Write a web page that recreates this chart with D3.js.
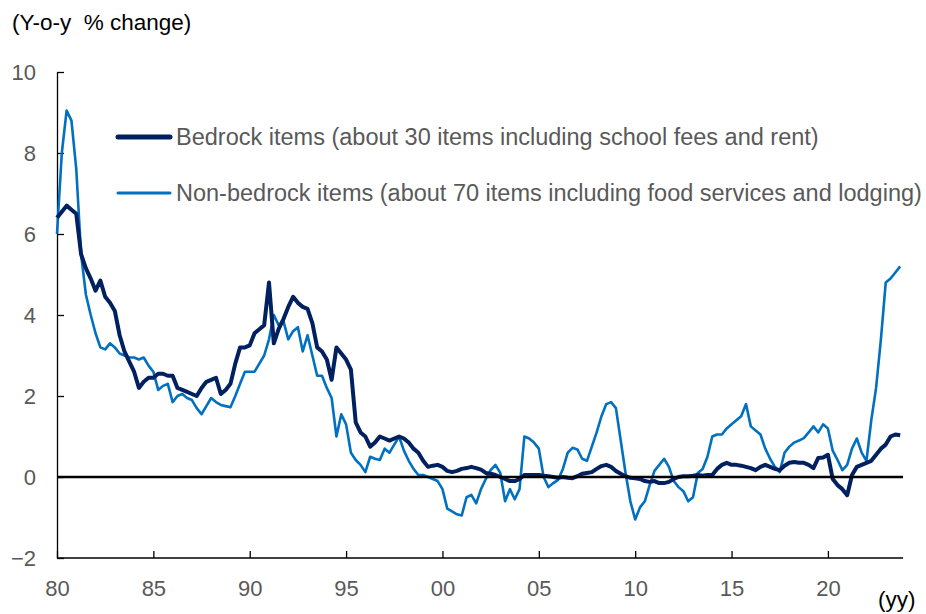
<!DOCTYPE html>
<html>
<head>
    <meta charset="utf-8">
    <title>Bedrock vs non-bedrock items</title>
    <script src="https://d3js.org/d3.v7.min.js"></script>
    <style>
        body { margin: 0; background: #fff; }
        text { font-family: "Liberation Sans", Arial, sans-serif; }
        .tick text { fill: #595959; font-size: 22px; }
        .axis path, .axis line { stroke: #000; stroke-width: 1.3px; }
        .legend-label { fill: #595959; font-size: 23.5px; }
    </style>
</head>
<body>
    <div id="chart"></div>
    <script>
        const width = 926;
        const height = 614;

        // quarterly readings, first quarter of 1980 onward
        const startYear = 1980;
        const seriesNames = [
            "Bedrock items (about 30 items including school fees and rent)",
            "Non-bedrock items (about 70 items including food services and lodging)"
        ];
        const bedrock = [
            6.4, 6.55, 6.7, 6.6,      // 80
            6.5, 5.5, 5.15, 4.9,      // 81
            4.6, 4.85, 4.45, 4.3,     // 82
            4.1, 3.5, 3.1, 2.85,      // 83
            2.6, 2.2, 2.35, 2.45,     // 84
            2.45, 2.55, 2.55, 2.5,    // 85
            2.5, 2.2, 2.15, 2.1,      // 86
            2.05, 2.0, 2.2, 2.35,     // 87
            2.4, 2.45, 2.05, 2.15,    // 88
            2.3, 2.8, 3.2, 3.2,       // 89
            3.25, 3.55, 3.65, 3.75,   // 90
            4.8, 3.3, 3.65, 3.9,      // 91
            4.2, 4.45, 4.3, 4.2,      // 92
            4.15, 3.8, 3.2, 3.1,      // 93
            2.9, 2.4, 3.2, 3.05,      // 94
            2.9, 2.65, 1.35, 1.1,     // 95
            1.0, 0.75, 0.85, 1.0,     // 96
            0.95, 0.9, 0.95, 1.0,     // 97
            0.95, 0.85, 0.7, 0.6,     // 98
            0.4, 0.25, 0.28, 0.3,     // 99
            0.25, 0.15, 0.12, 0.15,   // 00
            0.2, 0.22, 0.25, 0.22,    // 01
            0.18, 0.1, 0.08, 0.05,    // 02
            0.0, -0.05, -0.1, -0.1,   // 03
            -0.05, 0.05, 0.05, 0.05,  // 04
            0.05, 0.03, 0.02, 0.0,    // 05
            -0.02, 0.0, -0.02, -0.03, // 06
            0.02, 0.08, 0.1, 0.12,    // 07
            0.2, 0.27, 0.3, 0.25,     // 08
            0.15, 0.08, 0.02, -0.02,  // 09
            -0.03, -0.05, -0.1, -0.12,// 10
            -0.1, -0.15, -0.15, -0.12,// 11
            -0.05, 0.0, 0.02, 0.02,   // 12
            0.03, 0.05, 0.03, 0.05,   // 13
            0.05, 0.2, 0.3, 0.35,     // 14
            0.3, 0.3, 0.28, 0.25,     // 15
            0.22, 0.17, 0.25, 0.3,    // 16
            0.25, 0.2, 0.17, 0.28,    // 17
            0.35, 0.37, 0.35, 0.35,   // 18
            0.3, 0.22, 0.47, 0.48,    // 19
            0.55, -0.05, -0.2, -0.3,  // 20
            -0.45, 0.05, 0.25, 0.3,   // 21
            0.35, 0.4, 0.55, 0.7,     // 22
            0.8, 1.0, 1.05, 1.03      // 23
        ];
        const nonBedrock = [
            6.0, 8.0, 9.05, 8.8,      // 80
            7.6, 5.5, 4.5, 4.0,       // 81
            3.55, 3.2, 3.15, 3.3,     // 82
            3.2, 3.05, 3.0, 2.95,     // 83
            2.95, 2.9, 2.95, 2.75,    // 84
            2.6, 2.15, 2.25, 2.3,     // 85
            1.85, 2.0, 2.05, 1.95,    // 86
            1.9, 1.7, 1.55, 1.75,     // 87
            1.95, 1.85, 1.78, 1.75,   // 88
            1.72, 2.0, 2.3, 2.6,      // 89
            2.6, 2.6, 2.8, 3.0,       // 90
            3.4, 4.0, 3.75, 3.85,     // 91
            3.4, 3.6, 3.7, 3.1,       // 92
            3.5, 3.0, 2.5, 2.5,       // 93
            2.2, 1.95, 1.0, 1.55,     // 94
            1.3, 0.6, 0.42, 0.3,      // 95
            0.12, 0.5, 0.45, 0.42,    // 96
            0.7, 0.6, 0.8, 1.0,       // 97
            0.65, 0.4, 0.2, 0.05,     // 98
            0.05, 0.0, -0.05, -0.1,   // 99
            -0.3, -0.78, -0.85, -0.92,// 00
            -0.95, -0.5, -0.44, -0.65,// 01
            -0.3, -0.05, 0.17, 0.3,   // 02
            0.1, -0.6, -0.3, -0.55,   // 03
            -0.3, 1.0, 0.95, 0.85,    // 04
            0.7, 0.0, -0.25, -0.15,   // 05
            -0.07, 0.2, 0.6, 0.72,    // 06
            0.68, 0.45, 0.4, 0.75,    // 07
            1.1, 1.5, 1.8, 1.85,      // 08
            1.7, 0.9, 0.1, -0.6,      // 09
            -1.05, -0.75, -0.6, -0.2, // 10
            0.15, 0.3, 0.45, 0.25,    // 11
            -0.1, -0.25, -0.35, -0.6, // 12
            -0.5, 0.1, 0.2, 0.5,      // 13
            1.0, 1.05, 1.05, 1.2,     // 14
            1.3, 1.4, 1.5, 1.8,       // 15
            1.25, 1.15, 1.05, 0.7,    // 16
            0.45, 0.25, 0.12, 0.6,    // 17
            0.75, 0.85, 0.9, 0.96,    // 18
            1.1, 1.25, 1.1, 1.3,      // 19
            1.2, 0.65, 0.42, 0.17,    // 20
            0.3, 0.7, 0.95, 0.6,      // 21
            0.4, 1.4, 2.2, 3.4,       // 22
            4.8, 4.9, 5.05, 5.2       // 23
        ];
        const xTicks = [1980, 1985, 1990, 1995, 2000, 2005, 2010, 2015, 2020];
        const yTicks = [-2, 0, 2, 4, 6, 8, 10];

        const colors = ["#002060", "#0070C0"];
        const widths = [4, 2.6];

        const svg = d3.select("#chart")
            .append("svg")
            .attr("width", width)
            .attr("height", height);

        const x = d3.scaleLinear().domain([1980, 2024]).range([57, 905]);
        const y = d3.scaleLinear().domain([-2, 10]).range([558, 72]);

        // y axis, ticks point inward
        svg.append("g")
            .attr("class", "axis")
            .attr("transform", `translate(${x(1980)},0)`)
            .call(d3.axisLeft(y).tickValues(yTicks).tickSizeInner(-7).tickSizeOuter(0).tickPadding(21))
            .call(g => g.selectAll(".tick text").attr("dy", "0.36em"));

        // x axis
        svg.append("g")
            .attr("class", "axis")
            .attr("transform", `translate(0,${y(-2)})`)
            .call(d3.axisBottom(x).tickValues(xTicks).tickSizeInner(-7).tickSizeOuter(0).tickPadding(22)
                .tickFormat(d => String(d % 100).padStart(2, "0")))
            .call(g => g.select(".domain").attr("d", `M${x(1980)},0H${x(2023.9)}`));

        const seriesData = [bedrock, nonBedrock].map(vals =>
            vals.map((v, i) => ({ t: startYear + i / 4, v: v })));

        const line = d3.line()
            .x(d => x(d.t))
            .y(d => y(d.v));

        // light series first, dark on top
        [1, 0].forEach(k => {
            svg.append("path")
                .datum(seriesData[k])
                .attr("d", line)
                .style("fill", "none")
                .style("stroke", colors[k])
                .style("stroke-width", widths[k])
                .style("stroke-linejoin", "round");
        });

        // zero line
        svg.append("line")
            .attr("x1", x(1980)).attr("x2", x(2023.9))
            .attr("y1", y(0)).attr("y2", y(0))
            .style("stroke", "#000")
            .style("stroke-width", 2.6);

        // legend
        const legendY = [137, 193];
        seriesNames.forEach((name, k) => {
            svg.append("line")
                .attr("x1", 118).attr("x2", 170)
                .attr("y1", legendY[k]).attr("y2", legendY[k])
                .style("stroke", colors[k])
                .style("stroke-width", k === 0 ? 5 : 3)
                .style("stroke-linecap", "round");
            svg.append("text")
                .attr("class", "legend-label")
                .attr("x", 176)
                .attr("y", legendY[k])
                .attr("dy", "0.36em")
                .text(name);
        });

        // unit labels
        svg.append("text")
            .attr("x", 12).attr("y", 30)
            .attr("xml:space", "preserve")
            .style("font-size", "22.5px")
            .style("fill", "#000")
            .text("(Y-o-y  % change)");

        svg.append("text")
            .attr("x", 878).attr("y", 607)
            .style("font-size", "22.5px")
            .style("fill", "#000")
            .text("(yy)");
    </script>
</body>
</html>
